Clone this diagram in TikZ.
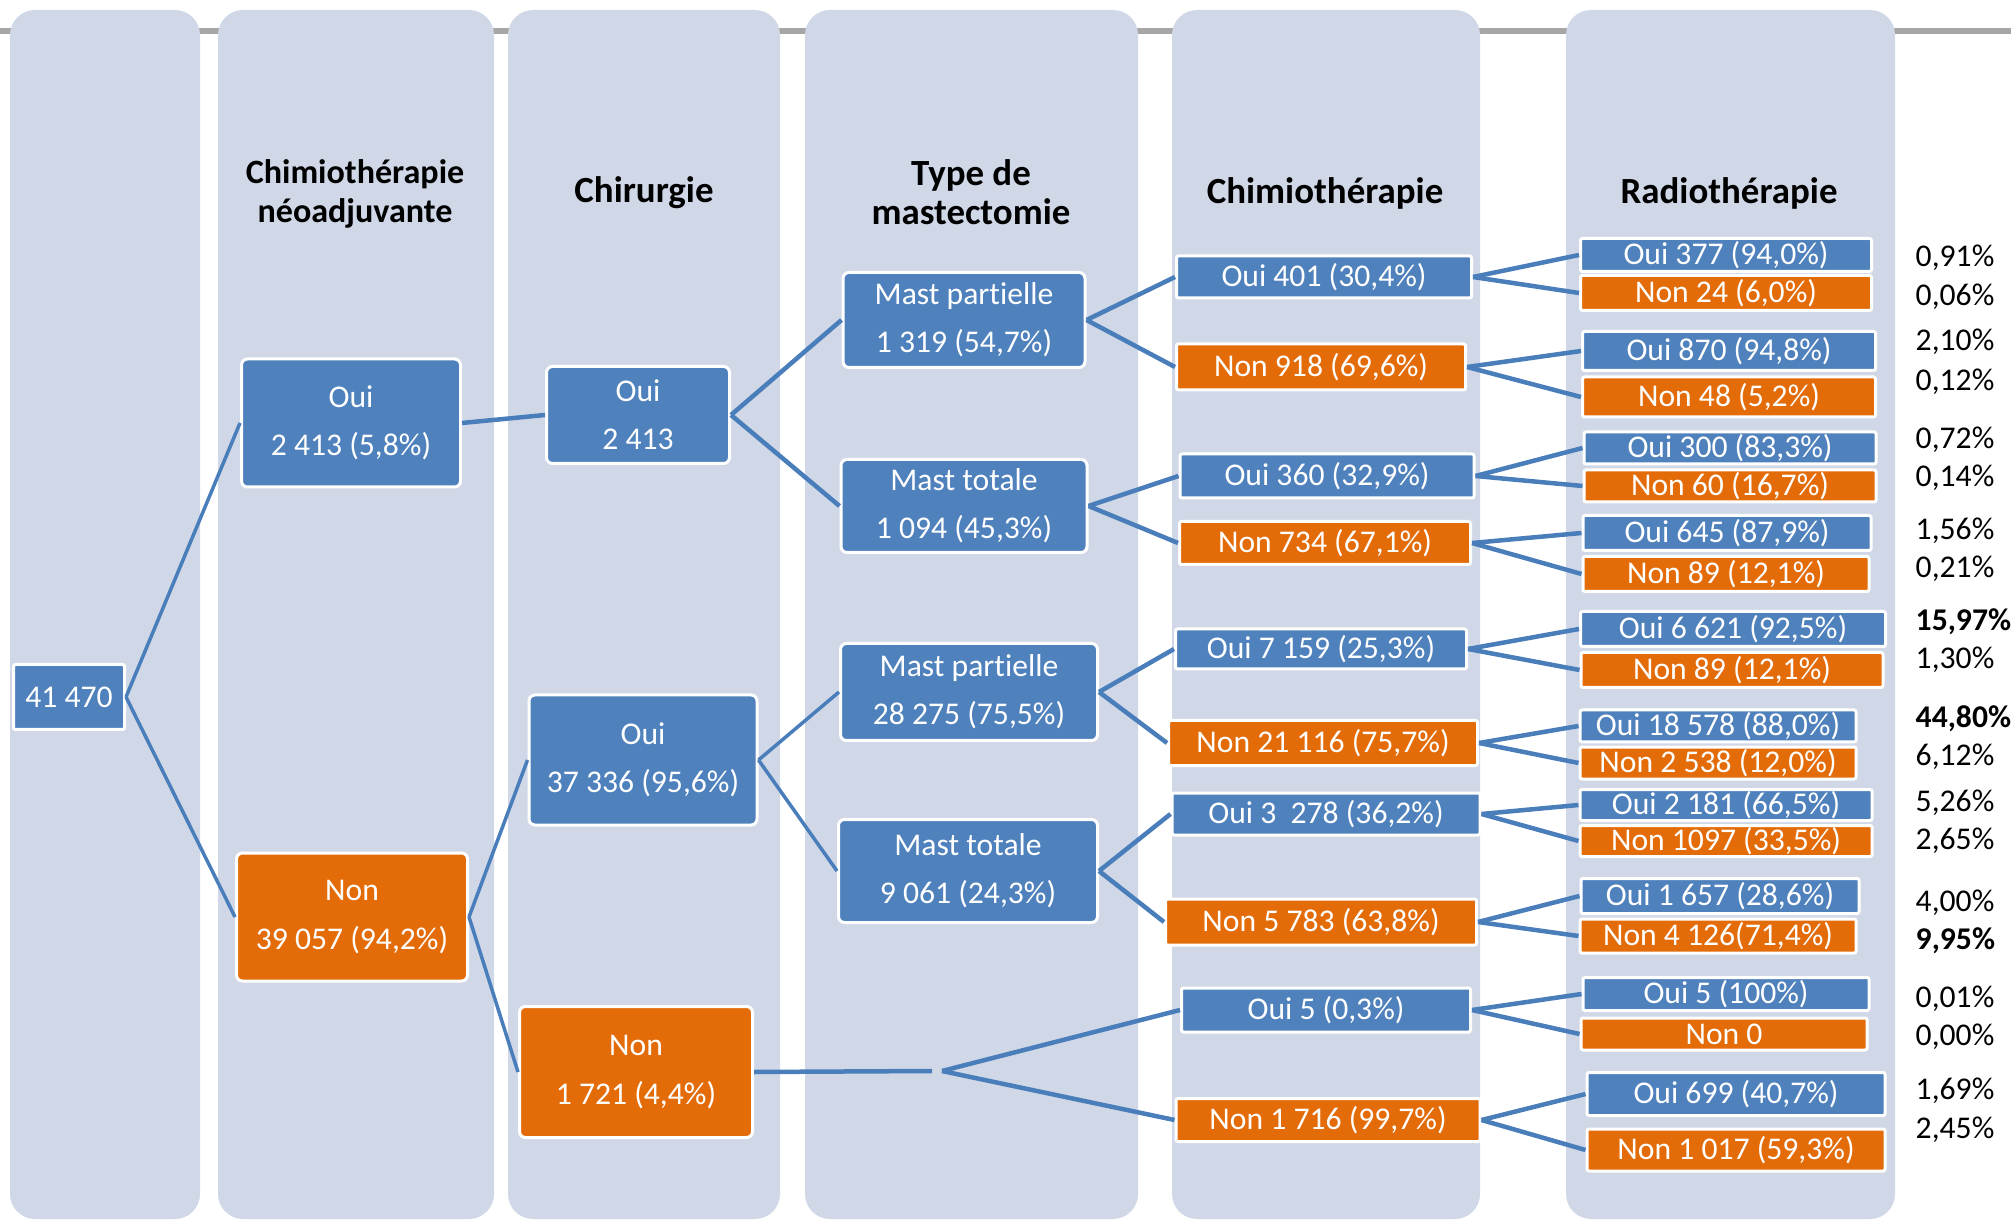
\documentclass[tikz,border=0pt]{standalone}
\usepackage{fontspec}
\setmainfont{Carlito}[Ligatures={NoCommon}]
\usetikzlibrary{positioning}
\definecolor{boxblue}{HTML}{4F81BD}
\definecolor{boxorange}{HTML}{E36C09}
\definecolor{colbg}{HTML}{D0D8E8}
\definecolor{rulegray}{HTML}{A6A6A6}
\definecolor{linkblue}{HTML}{4A7EBB}
\begin{document}
\begin{tikzpicture}[x=0.1mm, y=-0.1mm, wh/.style 2 args={minimum width=#1, minimum height=#2}]
\tikzstyle{column} = [fill=colbg, rounded corners=2.5mm]
\tikzstyle{head} = [align=center, font=\fontsize{10.5}{11.1}\selectfont\bfseries]
\tikzstyle{big} = [rectangle, draw=white, line width=0.3mm, rounded corners=0.6mm,
text=white, align=center, inner sep=0pt, font=\fontsize{9}{13.7}\selectfont]
\tikzstyle{small} = [rectangle, draw=white, line width=0.3mm, rounded corners=0.2mm,
text=white, inner sep=0pt, font=\fontsize{9}{10}\selectfont]
\tikzstyle{oui} = [fill=boxblue]
\tikzstyle{non} = [fill=boxorange]
\tikzstyle{pct} = [anchor=west, inner sep=0pt, font=\fontsize{9}{10}\selectfont]
\tikzstyle{line} = [draw=linkblue, line width=0.45mm]
\tikzstyle{thin} = [draw=linkblue, line width=0.35mm]
\useasboundingbox (0,0) rectangle (2011,1221);
%% columns
\draw[rulegray, line width=0.65mm] (0,31) -- (2011,31);
\fill[column] (10,10) rectangle (200,1219);
\fill[column] (218,10) rectangle (494,1219);
\fill[column] (508,10) rectangle (780,1219);
\fill[column] (805,10) rectangle (1138,1219);
\fill[column] (1172,10) rectangle (1480,1219);
\fill[column] (1566,10) rectangle (1895,1219);
\node[head,font=\fontsize{9.7}{11.1}\selectfont\bfseries] (H1) at (355,194) {Chimiothérapie\\néoadjuvante};
\node[head] (H2) at (644,193) {Chirurgie};
\node[head] (H3) at (971,192) {Type de\\mastectomie};
\node[head] (H4) at (1325,193) {Chimiothérapie};
\node[head] (H5) at (1729,193) {Radiothérapie};
%% first levels
\node[small,oui,wh={11.1mm}{6.5mm}] (T0) at (69,697) {41 470};
\node[big,oui,wh={21.9mm}{12.8mm}] (N1) at (351,423) {Oui\\2 413 (5,8\%)};
\node[big,non,wh={23.1mm}{12.8mm}] (N2) at (352,917) {Non\\39 057 (94,2\%)};
\node[big,oui,wh={18.3mm}{9.7mm}] (S1) at (638,415) {Oui\\2 413};
\node[big,oui,wh={22.8mm}{13mm}] (S2) at (643,760) {Oui\\37 336 (95,6\%)};
\node[big,non,wh={23.3mm}{13.1mm}] (S3) at (636,1072) {Non\\1 721 (4,4\%)};
\node[big,oui,wh={24.2mm}{9.5mm}] (M1) at (964,320) {Mast partielle\\1 319 (54,7\%)};
\node[big,oui,wh={24.6mm}{9.3mm}] (M2) at (964,506) {Mast totale\\1 094 (45,3\%)};
\node[big,oui,wh={25.7mm}{9.7mm}] (M3) at (969,692) {Mast partielle\\28 275 (75,5\%)};
\node[big,oui,wh={25.9mm}{10.3mm}] (M4) at (968,871) {Mast totale\\9 061 (24,3\%)};
\coordinate (J0) at (932,1071);
\coordinate (J) at (942,1071);
%% chimiotherapie
\node[small,oui,wh={29.5mm}{4.2mm}] (C1) at (1324,277) {Oui 401 (30,4\%)};
\node[small,non,wh={28.9mm}{4.6mm}] (C2) at (1321,367) {Non 918 (69,6\%)};
\node[small,oui,wh={29.4mm}{4.4mm}] (C3) at (1327,476) {Oui 360 (32,9\%)};
\node[small,non,wh={29.1mm}{4.3mm}] (C4) at (1325,543) {Non 734 (67,1\%)};
\node[small,oui,wh={29.1mm}{4mm}] (C5) at (1321,649) {Oui 7 159 (25,3\%)};
\node[small,non,wh={30.9mm}{4.5mm}] (C6) at (1323,743) {Non 21 116 (75,7\%)};
\node[small,oui,wh={30.8mm}{4.2mm}] (C7) at (1326,814) {Oui 3~~278 (36,2\%)};
\node[small,non,wh={31.1mm}{4.6mm}] (C8) at (1321,922) {Non 5 783 (63,8\%)};
\node[small,oui,wh={28.9mm}{4.4mm}] (C9) at (1326,1010) {Oui 5 (0,3\%)};
\node[small,non,wh={30.4mm}{4.3mm}] (C10) at (1328,1120) {Non 1 716 (99,7\%)};
%% radiotherapie
\node[small,oui,wh={29.1mm}{3.3mm}] (R1) at (1726,255) {Oui 377 (94,0\%)};
\node[small,non,wh={29.1mm}{3.5mm}] (R2) at (1726,293) {Non 24 (6,0\%)};
\node[small,oui,wh={29.3mm}{3.9mm}] (R3) at (1729,351) {Oui 870 (94,8\%)};
\node[small,non,wh={29.3mm}{4mm}] (R4) at (1729,397) {Non 48 (5,2\%)};
\node[small,oui,wh={29.2mm}{3.2mm}] (R5) at (1730,448) {Oui 300 (83,3\%)};
\node[small,non,wh={29.2mm}{3.2mm}] (R6) at (1730,486) {Non 60 (16,7\%)};
\node[small,oui,wh={28.8mm}{3.5mm}] (R7) at (1727,533) {Oui 645 (87,9\%)};
\node[small,non,wh={28.6mm}{3.5mm}] (R8) at (1726,574) {Non 89 (12,1\%)};
\node[small,oui,wh={30.5mm}{3.5mm}] (R9) at (1733,629) {Oui 6 621 (92,5\%)};
\node[small,non,wh={30.2mm}{3.5mm}] (R10) at (1732,670) {Non 89 (12,1\%)};
\node[small,oui,wh={27.6mm}{3.2mm}] (R11) at (1718,726) {Oui 18 578 (88,0\%)};
\node[small,non,wh={27.6mm}{3.2mm}] (R12) at (1718,763) {Non 2 538 (12,0\%)};
\node[small,oui,wh={29.2mm}{3.1mm}] (R13) at (1726,805) {Oui 2 181 (66,5\%)};
\node[small,non,wh={29.2mm}{3.1mm}] (R14) at (1726,841) {Non 1097 (33,5\%)};
\node[small,oui,wh={27.8mm}{3.5mm}] (R15) at (1720,896) {Oui 1 657 (28,6\%)};
\node[small,non,wh={27.6mm}{3.4mm}] (R16) at (1718,936) {Non 4 126(71,4\%)};
\node[small,oui,wh={28.6mm}{3.3mm}] (R17) at (1726,994) {Oui 5 (100\%)};
\node[small,non,wh={28.6mm}{3.2mm}] (R18) at (1724,1034) {Non 0};
\node[small,oui,wh={29.8mm}{4.3mm}] (R19) at (1736,1094) {Oui 699 (40,7\%)};
\node[small,non,wh={29.8mm}{4.2mm}] (R20) at (1736,1150) {Non 1 017 (59,3\%)};
%% shares of the total
\node[pct] (P1) at (1915,258) {0,91\%};
\node[pct] (P2) at (1915,297) {0,06\%};
\node[pct] (P3) at (1915,342) {2,10\%};
\node[pct] (P4) at (1915,382) {0,12\%};
\node[pct] (P5) at (1915,440) {0,72\%};
\node[pct] (P6) at (1915,478) {0,14\%};
\node[pct] (P7) at (1915,531) {1,56\%};
\node[pct] (P8) at (1915,569) {0,21\%};
\node[pct,font=\fontsize{9}{10}\selectfont\bfseries] (P9) at (1915,622) {15,97\%};
\node[pct] (P10) at (1915,660) {1,30\%};
\node[pct,font=\fontsize{9}{10}\selectfont\bfseries] (P11) at (1915,719) {44,80\%};
\node[pct] (P12) at (1915,757) {6,12\%};
\node[pct] (P13) at (1915,803) {5,26\%};
\node[pct] (P14) at (1915,841) {2,65\%};
\node[pct] (P15) at (1915,903) {4,00\%};
\node[pct,font=\fontsize{9}{10}\selectfont\bfseries] (P16) at (1915,941) {9,95\%};
\node[pct] (P17) at (1915,999) {0,01\%};
\node[pct] (P18) at (1915,1037) {0,00\%};
\node[pct] (P19) at (1915,1091) {1,69\%};
\node[pct] (P20) at (1915,1130) {2,45\%};
%% links
\draw[thin] (T0.east) -- (N1.west);
\draw[thin] (T0.east) -- (N2.west);
\draw[line] (N1.east) -- (S1.west);
\draw[thin] (N2.east) -- (S2.west);
\draw[thin] (N2.east) -- (S3.west);
\draw[line] (S1.east) -- (M1.west);
\draw[line] (S1.east) -- (M2.west);
\draw[thin] (S2.east) -- (M3.west);
\draw[thin] (S2.east) -- (M4.west);
\draw[line] (S3.east) -- (J0);
\draw[line] (J) -- (C9.west);
\draw[line] (J) -- (C10.west);
\draw[line] (M1.east) -- (C1.west);
\draw[line] (M1.east) -- (C2.west);
\draw[line] (M2.east) -- (C3.west);
\draw[line] (M2.east) -- (C4.west);
\draw[line] (M3.east) -- (C5.west);
\draw[line] (M3.east) -- (C6.west);
\draw[line] (M4.east) -- (C7.west);
\draw[line] (M4.east) -- (C8.west);
\draw[line] (C1.east) -- (R1.west);
\draw[line] (C1.east) -- (R2.west);
\draw[line] (C2.east) -- (R3.west);
\draw[line] (C2.east) -- (R4.west);
\draw[line] (C3.east) -- (R5.west);
\draw[line] (C3.east) -- (R6.west);
\draw[line] (C4.east) -- (R7.west);
\draw[line] (C4.east) -- (R8.west);
\draw[line] (C5.east) -- (R9.west);
\draw[line] (C5.east) -- (R10.west);
\draw[line] (C6.east) -- (R11.west);
\draw[line] (C6.east) -- (R12.west);
\draw[line] (C7.east) -- (R13.west);
\draw[line] (C7.east) -- (R14.west);
\draw[line] (C8.east) -- (R15.west);
\draw[line] (C8.east) -- (R16.west);
\draw[line] (C9.east) -- (R17.west);
\draw[line] (C9.east) -- (R18.west);
\draw[line] (C10.east) -- (R19.west);
\draw[line] (C10.east) -- (R20.west);
\end{tikzpicture}
\end{document}
